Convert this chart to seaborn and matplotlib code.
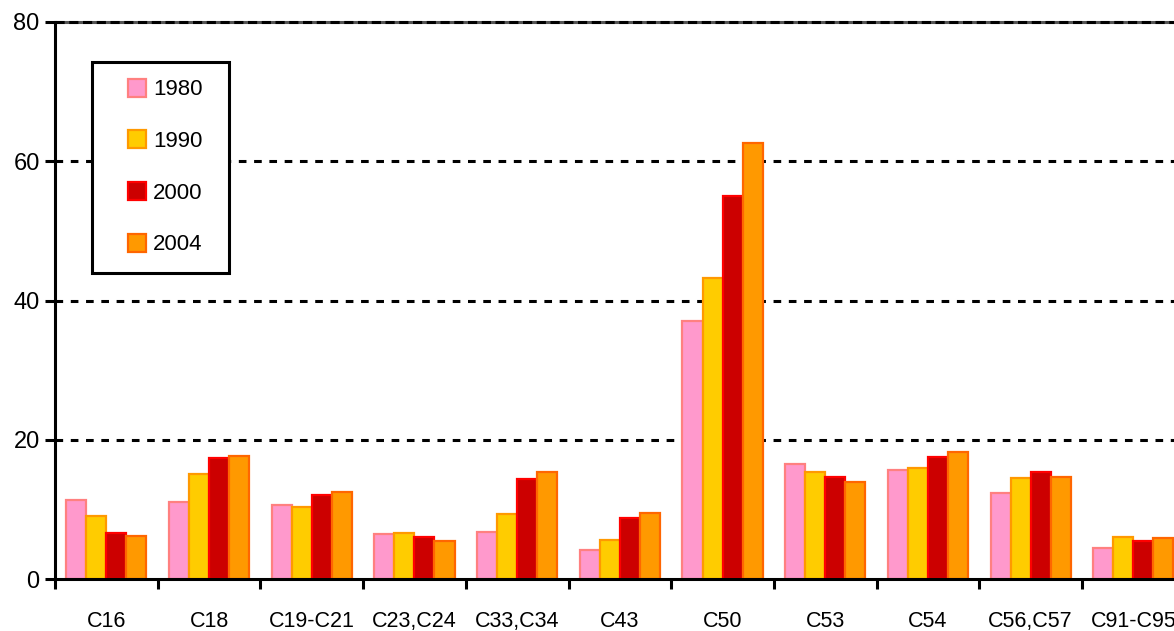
import matplotlib
matplotlib.use("Agg")
import matplotlib.pyplot as plt
from matplotlib.lines import Line2D
import seaborn as sns
import pandas as pd

# categories and yearly values
categories = ["C16", "C18", "C19-C21", "C23,C24", "C33,C34", "C43",
              "C50", "C53", "C54", "C56,C57", "C91-C95"]
years = ["1980", "1990", "2000", "2004"]
v1980 = [11.3, 11.1, 10.6, 6.5, 6.7, 4.2, 37.1, 16.5, 15.6, 12.4, 4.5]
v1990 = [9.0, 15.1, 10.4, 6.6, 9.3, 5.6, 43.2, 15.4, 15.9, 14.5, 6.0]
v2000 = [6.6, 17.4, 12.0, 6.1, 14.3, 8.7, 55.0, 14.6, 17.5, 15.3, 5.5]
v2004 = [6.2, 17.6, 12.5, 5.4, 15.4, 9.5, 62.6, 13.9, 18.3, 14.7, 5.9]
yticks = [0, 20, 40, 60, 80]

fills = ["#FF99CC", "#FFCC00", "#CC0000", "#FF9900"]
edges = ["#FF8080", "#FF9900", "#FF0000", "#FF6600"]

rows = []
for year, vals in zip(years, [v1980, v1990, v2000, v2004]):
    for cat, v in zip(categories, vals):
        rows.append({"cat": cat, "year": year, "value": v})
df = pd.DataFrame(rows)

sns.set_style("white")
plt.rcParams["font.family"] = ["Liberation Sans", "DejaVu Sans"]
plt.rcParams["text.color"] = "black"
plt.rcParams["xtick.color"] = "black"
plt.rcParams["ytick.color"] = "black"

fig = plt.figure(figsize=(11.74, 6.31), dpi=100)
ax = fig.add_axes([55 / 1174, 1 - 579 / 631, 1129.7 / 1174, 557 / 631])

sns.barplot(data=df, x="cat", y="value", hue="year", order=categories,
            hue_order=years, palette=fills, saturation=1, width=0.78, ax=ax,
            legend=False)
for cont, ec in zip(ax.containers, edges):
    for bar in cont:
        bar.set_edgecolor(ec)
        bar.set_linewidth(1.6)

ax.set_xlim(-0.5, 10.5)
ax.set_ylim(0, 80)
ax.set_xlabel("")
ax.set_ylabel("")

# dotted gridlines
for y in [20, 40, 60]:
    ax.axhline(y, color="black", lw=2.2, ls=(0, (2.5, 2.5)), zorder=0)
ax.axhline(80, color="#555555", lw=2.2, zorder=0, clip_on=False)
ax.axhline(80, color="black", lw=2.2, ls=(0, (3, 1.5)), zorder=0, clip_on=False)

for side in ["top", "right"]:
    ax.spines[side].set_visible(False)
for side in ["left", "bottom"]:
    ax.spines[side].set_color("black")
    ax.spines[side].set_linewidth(2.2)

ax.set_yticks(yticks)
ax.tick_params(axis="y", length=7, width=2.2, color="black", labelsize=17,
               pad=4, left=True)
# ticks between groups, labels at centers
ax.set_xticks([i - 0.5 for i in range(len(categories) + 1)])
ax.set_xticklabels([])
ax.set_xticks(range(len(categories)), minor=True)
ax.set_xticklabels(categories, minor=True)
ax.tick_params(axis="x", which="major", length=7, width=2.2, color="black",
               bottom=True)
ax.tick_params(axis="x", which="minor", length=0, labelsize=15.5, pad=23)

handles = [Line2D([], [], ls="none", marker="s", markersize=13,
                  markerfacecolor=f, markeredgecolor=e, markeredgewidth=1.6)
           for f, e in zip(fills, edges)]
x0 = (92 - 55) / 1129.7
w = (229 - 92) / 1129.7
y_top = (579 - 62) / 557
h = (275 - 62) / 557
leg = ax.legend(handles, years, loc="upper left",
                bbox_to_anchor=(x0, y_top - h, w, h), mode="expand",
                borderaxespad=0, fontsize=16, frameon=True, fancybox=False,
                framealpha=1, labelspacing=1.38, borderpad=0.78,
                handlelength=2.53, handletextpad=-0.56)
leg.get_frame().set_edgecolor("black")
leg.get_frame().set_linewidth(2.2)

fig.savefig("out.png", dpi=100)
